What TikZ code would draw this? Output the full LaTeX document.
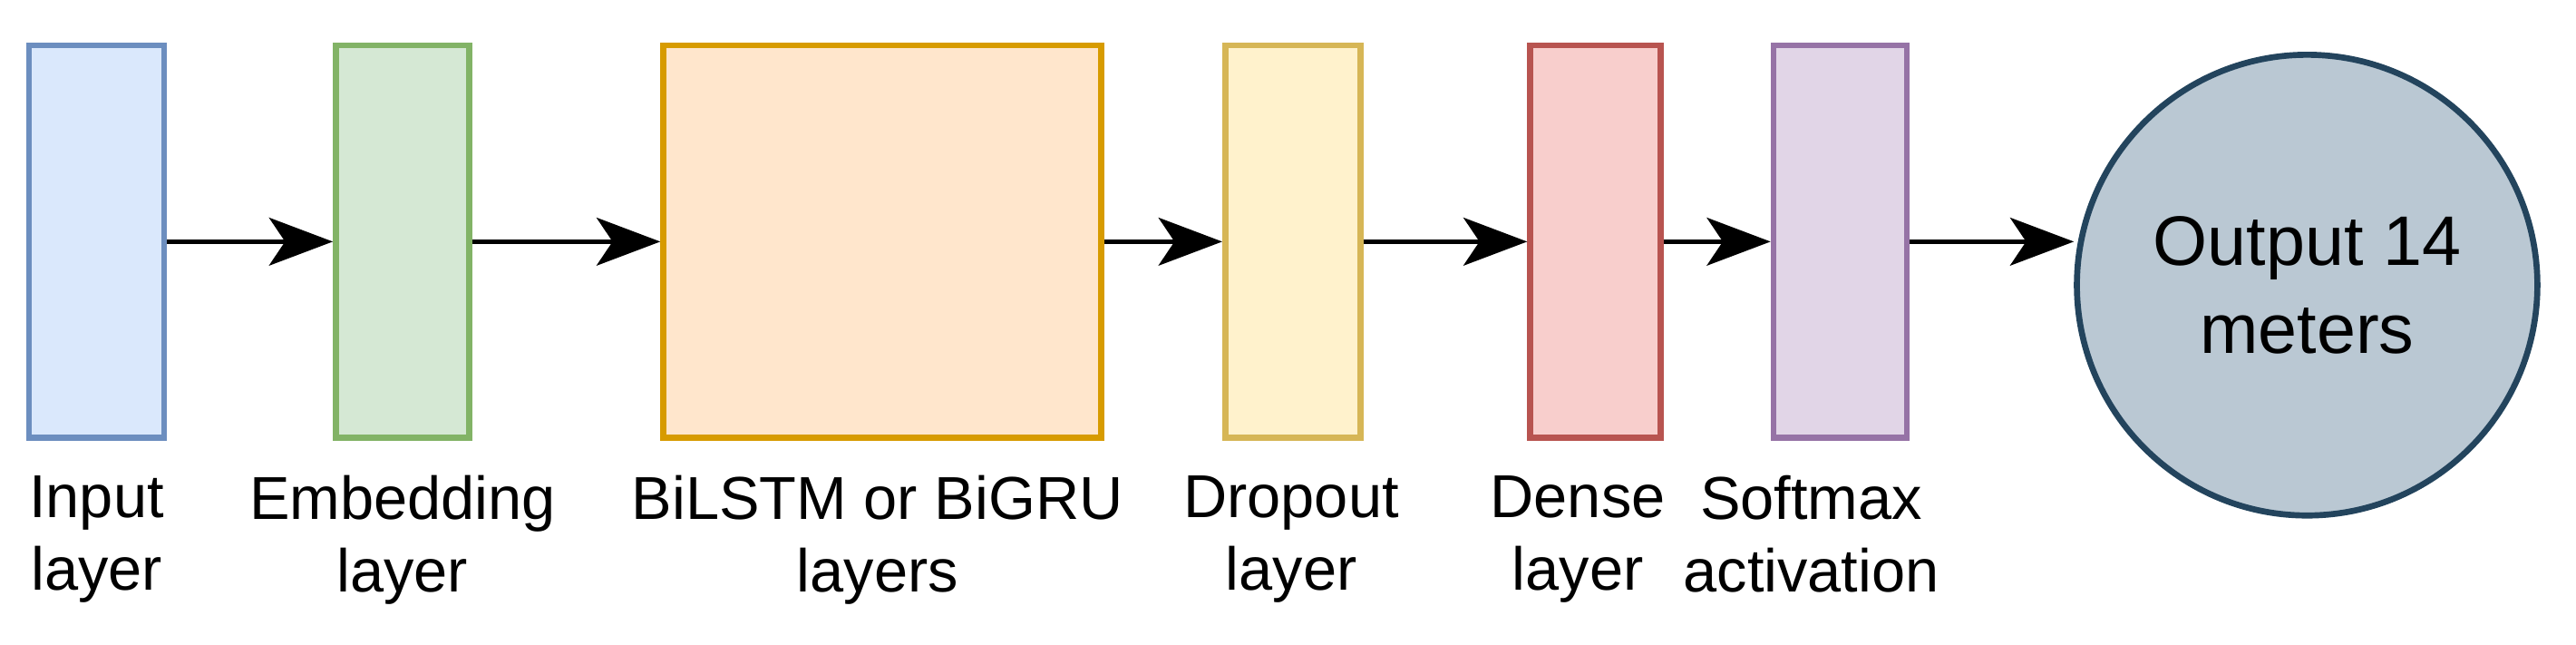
\documentclass[tikz,border=0pt]{standalone}
\usepackage{fontspec}
\setmainfont{Liberation Sans}
\usetikzlibrary{arrows.meta}
\begin{document}
\begin{tikzpicture}[x=0.01776cm,y=-0.01776cm,
  box/.style={draw,line width=1.9pt,inner sep=0pt},
  lbl/.style={anchor=north,align=center,font=\fontsize{19}{22.7}\selectfont,inner sep=0pt},
  arr/.style={-{Stealth[length=20pt,width=15pt,inset=5pt]},line width=1.5pt}]
\useasboundingbox (0,0) rectangle (1600,400);
\definecolor{f1}{HTML}{DAE8FC}\definecolor{d1}{HTML}{6C8EBF}
\definecolor{f2}{HTML}{D5E8D4}\definecolor{d2}{HTML}{82B366}
\definecolor{f3}{HTML}{FFE6CC}\definecolor{d3}{HTML}{D79B00}
\definecolor{f4}{HTML}{FFF2CC}\definecolor{d4}{HTML}{D6B656}
\definecolor{f5}{HTML}{F8CECC}\definecolor{d5}{HTML}{B85450}
\definecolor{f6}{HTML}{E1D5E7}\definecolor{d6}{HTML}{9673A6}
\definecolor{f7}{HTML}{BAC8D3}\definecolor{d7}{HTML}{23445D}
\node[box,fill=f1,draw=d1,minimum width=1.49cm,minimum height=4.33cm] (inp) at (60,150) {};
\node[box,fill=f2,draw=d2,minimum width=1.47cm,minimum height=4.33cm] (emb) at (250,150) {};
\node[box,fill=f3,draw=d3,minimum width=4.83cm,minimum height=4.33cm] (bil) at (548,150) {};
\node[box,fill=f4,draw=d4,minimum width=1.49cm,minimum height=4.33cm] (dro) at (803,150) {};
\node[box,fill=f5,draw=d5,minimum width=1.44cm,minimum height=4.33cm] (den) at (991,150) {};
\node[box,fill=f6,draw=d6,minimum width=1.47cm,minimum height=4.33cm] (sof) at (1143,150) {};
\node[circle,box,fill=f7,draw=d7,minimum size=5.08cm,align=center,font=\fontsize{22}{27.5}\selectfont] (out) at (1433,177) {Output 14\\meters};
\draw[arr] (inp.east) -- (emb.west);
\draw[arr] (emb.east) -- (bil.west);
\draw[arr] (bil.east) -- (dro.west);
\draw[arr] (dro.east) -- (den.west);
\draw[arr] (den.east) -- (sof.west);
\draw[arr] (sof.east) -- (sof.east -| out.west);
\node[lbl] (l1) at (60,295) {Input\\layer};
\node[lbl] (l2) at (250,295) {Embedding\\layer};
\node[lbl] (l3) at (545,295) {BiLSTM or BiGRU\\layers};
\node[lbl] (l4) at (802,295) {Dropout\\layer};
\node[lbl] (l5) at (980,295) {Dense\\layer};
\node[lbl] (l6) at (1125,295) {Softmax\\activation};
\end{tikzpicture}
\end{document}
